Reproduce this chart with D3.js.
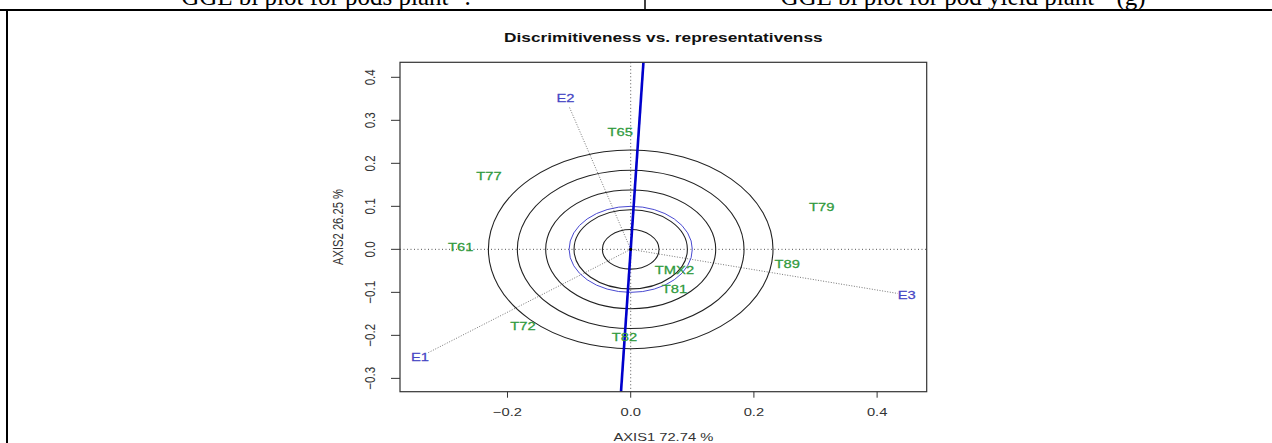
<!DOCTYPE html>
<html>
<head>
<meta charset="utf-8">
<script src="https://cdn.jsdelivr.net/npm/d3@7"></script>
<style>
  body { margin: 0; background: #fff; }
  svg { display: block; }
</style>
</head>
<body>
<svg id="chart" width="1272" height="443"></svg>
<script>
// header captions of the table cells
var headers = ["GGE bi plot for pods plant", "GGE bi plot for pod yield plant"];
var headerTails = [".", " (g)"];

// genotype scores
var genotypes = ["T65", "T77", "T79", "T61", "T72", "T82", "TMX2", "T81", "T89"];
var genoX = [-0.017, -0.230, 0.310, -0.276, -0.175, -0.010, 0.071, 0.071, 0.254];
var genoY = [0.274, 0.170, 0.098, 0.005, -0.178, -0.203, -0.047, -0.091, -0.033];

// environment scores
var envs = ["E1", "E2", "E3"];
var envX = [-0.342, -0.106, 0.448];
var envY = [-0.250, 0.352, -0.106];

// concentric circles and average environment axis
var ringRadii = [0.046, 0.092, 0.138, 0.184, 0.231];
var avgRadius = 0.100;
var aeaDir = [0.0475, 1];

var xTicks = [-0.2, 0.0, 0.2, 0.4];
var yTicks = [-0.3, -0.2, -0.1, 0.0, 0.1, 0.2, 0.3, 0.4];

var SX = 1.27; // picture was stretched sideways
var font = "'Liberation Sans', Arial, sans-serif";

var svg = d3.select('#chart');

// table frame
svg.append('line').attr('x1', 0).attr('x2', 1272).attr('y1', 10).attr('y2', 10)
    .attr('stroke', '#000').attr('stroke-width', 2);
svg.append('line').attr('x1', 7).attr('x2', 7).attr('y1', 9).attr('y2', 443)
    .attr('stroke', '#000').attr('stroke-width', 2);
svg.append('line').attr('x1', 645).attr('x2', 645).attr('y1', 0).attr('y2', 10)
    .attr('stroke', '#000').attr('stroke-width', 1.5);

[326, 963].forEach(function (cx, i) {
    var t = svg.append('text')
        .attr('x', cx).attr('y', 5)
        .attr('text-anchor', 'middle')
        .attr('font-family', "'Liberation Serif', 'Times New Roman', serif")
        .attr('font-size', 25)
        .attr('fill', '#000');
    t.append('tspan').text(headers[i]);
    t.append('tspan').attr('font-size', 15).attr('dy', -9).text('\u22121');
    t.append('tspan').attr('dy', 9).text(headerTails[i]);
});

var box = {left: 400, right: 926.7, top: 62.3, bottom: 391.7};
var x = d3.scaleLinear().domain([-0.3745, 0.4805]).range([box.left, box.right]);
var y = d3.scaleLinear().domain([-0.331, 0.4349]).range([box.bottom, box.top]);

function stretchedText(g, tx, ty, rot) {
    return g.append('text')
        .attr('transform', 'translate(' + tx + ',' + ty + ') scale(' + SX + ',1)' + (rot ? ' rotate(' + rot + ')' : ''))
        .attr('font-family', font);
}

// title
stretchedText(svg, (box.left + box.right) / 2, 41.5)
    .attr('text-anchor', 'middle')
    .attr('font-size', 13.6)
    .attr('font-weight', 'bold')
    .attr('fill', '#111')
    .text('Discrimitiveness vs. representativenss');

svg.append('defs').append('clipPath').attr('id', 'plotClip')
    .append('rect')
    .attr('x', box.left).attr('y', box.top)
    .attr('width', box.right - box.left).attr('height', box.bottom - box.top);

var plot = svg.append('g').attr('clip-path', 'url(#plotClip)');

// dotted reference axes
plot.append('line')
    .attr('x1', box.left).attr('x2', box.right).attr('y1', y(0)).attr('y2', y(0))
    .attr('stroke', '#555').attr('stroke-dasharray', '1,2.5');
plot.append('line')
    .attr('x1', x(0)).attr('x2', x(0)).attr('y1', box.top).attr('y2', box.bottom)
    .attr('stroke', '#555').attr('stroke-dasharray', '1,2.5');

// environment vectors (stop short of the label)
plot.selectAll('line.env').data(envs).enter().append('line')
    .attr('class', 'env')
    .each(function (d, i) {
        var px = x(envX[i]), py = y(envY[i]);
        var dx = px - x(0), dy = py - y(0);
        var len = Math.sqrt(dx * dx + dy * dy);
        var k = (len - 9) / len;
        d3.select(this)
            .attr('x1', x(0)).attr('y1', y(0))
            .attr('x2', x(0) + dx * k).attr('y2', y(0) + dy * k);
    })
    .attr('stroke', '#666').attr('stroke-width', 0.9).attr('stroke-dasharray', '1,1.6');

// concentric rings
plot.selectAll('ellipse.ring').data(ringRadii).enter().append('ellipse')
    .attr('class', 'ring')
    .attr('cx', x(0)).attr('cy', y(0))
    .attr('rx', function (r) { return x(r) - x(0); })
    .attr('ry', function (r) { return y(0) - y(r); })
    .attr('fill', 'none').attr('stroke', '#222').attr('stroke-width', 1.1);

plot.append('ellipse')
    .attr('cx', x(0)).attr('cy', y(0))
    .attr('rx', x(avgRadius) - x(0))
    .attr('ry', y(0) - y(avgRadius))
    .attr('fill', 'none').attr('stroke', '#4a4ad0').attr('stroke-width', 1);

// average environment axis
var yLo = y.domain()[0], yHi = y.domain()[1];
plot.append('line')
    .attr('x1', x(aeaDir[0] * yLo / aeaDir[1])).attr('y1', y(yLo))
    .attr('x2', x(aeaDir[0] * yHi / aeaDir[1])).attr('y2', y(yHi))
    .attr('stroke', '#0000cc').attr('stroke-width', 2.6);

plot.append('circle').attr('cx', x(0)).attr('cy', y(0)).attr('r', 1.6).attr('fill', '#000');

// labels
genotypes.forEach(function (g, i) {
    stretchedText(plot, x(genoX[i]), y(genoY[i]) + 4.2)
        .attr('text-anchor', 'middle')
        .attr('font-size', 11.6)
        .attr('fill', '#2f9a3c')
        .attr('stroke', '#2f9a3c').attr('stroke-width', 0.25)
        .text(g);
});
envs.forEach(function (e, i) {
    stretchedText(plot, x(envX[i]), y(envY[i]) + 4.2)
        .attr('text-anchor', 'middle')
        .attr('font-size', 11.6)
        .attr('fill', '#4646c4')
        .attr('stroke', '#4646c4').attr('stroke-width', 0.25)
        .text(e);
});

// frame
svg.append('rect')
    .attr('x', box.left).attr('y', box.top)
    .attr('width', box.right - box.left).attr('height', box.bottom - box.top)
    .attr('fill', 'none').attr('stroke', '#333').attr('stroke-width', 1.2);

var fmt = d3.format('.1f');

// x axis
var xAxis = svg.append('g');
xAxis.selectAll('line').data(xTicks).enter().append('line')
    .attr('x1', function (d) { return x(d); }).attr('x2', function (d) { return x(d); })
    .attr('y1', box.bottom).attr('y2', box.bottom + 6)
    .attr('stroke', '#333');
xTicks.forEach(function (d) {
    stretchedText(xAxis, x(d), 415.5)
        .attr('text-anchor', 'middle').attr('font-size', 11.6).attr('fill', '#333')
        .text(fmt(d));
});
stretchedText(svg, (box.left + box.right) / 2, 441)
    .attr('text-anchor', 'middle').attr('font-size', 11.6).attr('fill', '#333')
    .text('AXIS1 72.74 %');

// y axis
var yAxis = svg.append('g');
yAxis.selectAll('line').data(yTicks).enter().append('line')
    .attr('x1', box.left - 9).attr('x2', box.left)
    .attr('y1', function (d) { return y(d); }).attr('y2', function (d) { return y(d); })
    .attr('stroke', '#333');
yTicks.forEach(function (d) {
    stretchedText(yAxis, 374.5, y(d), -90)
        .attr('text-anchor', 'middle').attr('font-size', 11.6).attr('fill', '#333')
        .text(fmt(d));
});
stretchedText(svg, 342.5, (box.top + box.bottom) / 2, -90)
    .attr('text-anchor', 'middle').attr('font-size', 11.2).attr('fill', '#333')
    .text('AXIS2 26.25 %');
</script>
</body>
</html>
